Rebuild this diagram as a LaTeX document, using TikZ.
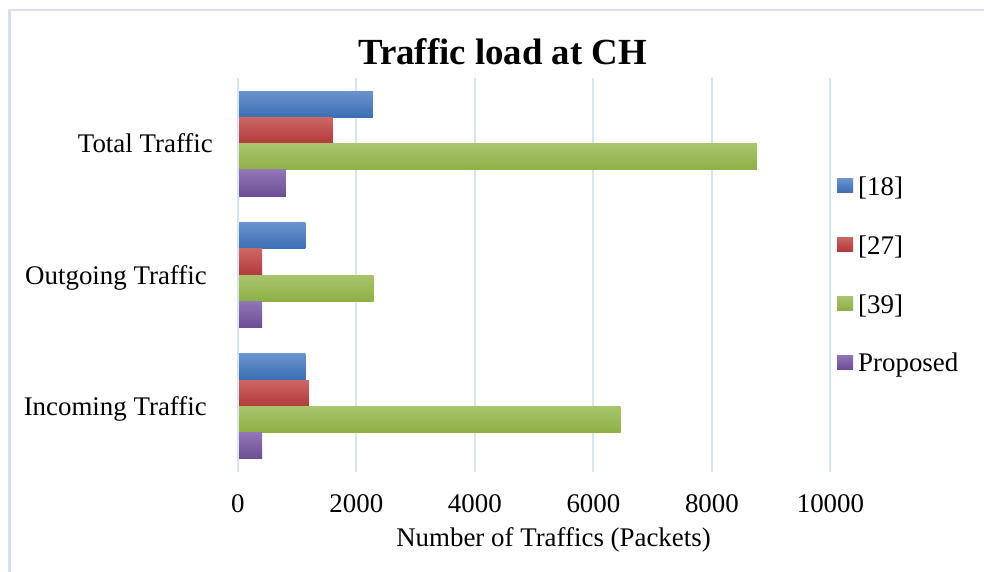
\documentclass[tikz,border=0pt]{standalone}
\usepackage{fontspec}
\setmainfont{Liberation Serif}

\definecolor{gridc}{HTML}{D9E4F2}
\definecolor{framec}{HTML}{D6DFEE}
\definecolor{bluetop}{HTML}{6A93CD}
\definecolor{bluebot}{HTML}{3A6EB4}
\definecolor{redtop}{HTML}{CC6764}
\definecolor{redbot}{HTML}{B4383A}
\definecolor{greentop}{HTML}{A8C56C}
\definecolor{greenbot}{HTML}{8DAF45}
\definecolor{purpletop}{HTML}{9077B6}
\definecolor{purplebot}{HTML}{6D4D95}

% value axis: 0 at x=237.8, 0.05927 px per packet
\newcommand\valx[1]{237.8+#1*0.05927}
% one bar: #1 category slot (0 top), #2 series slot, #3 value, #4 colour stem
\newcommand\trafficbar[4]{%
  \shade[top color=#4top, bottom color=#4bot]
    (239,{91.13+131.33*#1+26.27*#2}) rectangle ({\valx{#3}},{91.13+131.33*#1+26.27*(#2+1)});}

\begin{document}
\begin{tikzpicture}[x=1pt,y=-1pt,
  lbl/.style={font=\fontsize{26.9}{30}\selectfont, inner sep=0pt},
  titlelbl/.style={font=\fontsize{36.8}{40}\selectfont\bfseries, inner sep=0pt},
  gridline/.style={draw=gridc, line width=2pt},
  legmark/.style={minimum width=16pt, minimum height=14pt, inner sep=0pt}]
\useasboundingbox (0,0) rectangle (984,572);
\fill[white] (0,0) rectangle (984,572);
\draw[framec, line width=2.5pt] (9.5,572) -- (9.5,10) -- (984,10);

% title
\node[titlelbl, anchor=base] (title) at (502.5,65) {Traffic load at CH};

% vertical grid lines and value labels
\foreach \v in {0,2000,4000,6000,8000,10000} {
  \draw[gridline] ({\valx{\v}},78) -- ({\valx{\v}},472);
  \node[lbl, anchor=base] (tick\v) at ({\valx{\v}},512.7) {\v};
}
\node[lbl, anchor=base] (xlabel) at (553.5,546.7) {Number of Traffics (Packets)};

% category labels
\node[lbl, anchor=base east] (total) at (213,152.7) {Total Traffic};
\node[lbl, anchor=base east] (outgoing) at (207,284) {Outgoing Traffic};
\node[lbl, anchor=base east] (incoming) at (207,415) {Incoming Traffic};

% Total Traffic
\trafficbar{0}{0}{2280}{blue}
\trafficbar{0}{1}{1600}{red}
\trafficbar{0}{2}{8760}{green}
\trafficbar{0}{3}{810}{purple}
% Outgoing Traffic
\trafficbar{1}{0}{1140}{blue}
\trafficbar{1}{1}{410}{red}
\trafficbar{1}{2}{2290}{green}
\trafficbar{1}{3}{410}{purple}
% Incoming Traffic
\trafficbar{2}{0}{1140}{blue}
\trafficbar{2}{1}{1200}{red}
\trafficbar{2}{2}{6460}{green}
\trafficbar{2}{3}{410}{purple}

% legend
\node[legmark, top color=bluetop, bottom color=bluebot] (m18) at (845,185.5) {};
\node[legmark, top color=redtop, bottom color=redbot] (m27) at (845,244) {};
\node[legmark, top color=greentop, bottom color=greenbot] (m39) at (845,303.5) {};
\node[legmark, top color=purpletop, bottom color=purplebot] (mprop) at (845,362) {};
\node[lbl, anchor=base west] (l18) at (858,195.5) {[18]};
\node[lbl, anchor=base west] (l27) at (858,254.5) {[27]};
\node[lbl, anchor=base west] (l39) at (858,313.5) {[39]};
\node[lbl, anchor=base west] (lprop) at (858,371) {Proposed};
\end{tikzpicture}
\end{document}
